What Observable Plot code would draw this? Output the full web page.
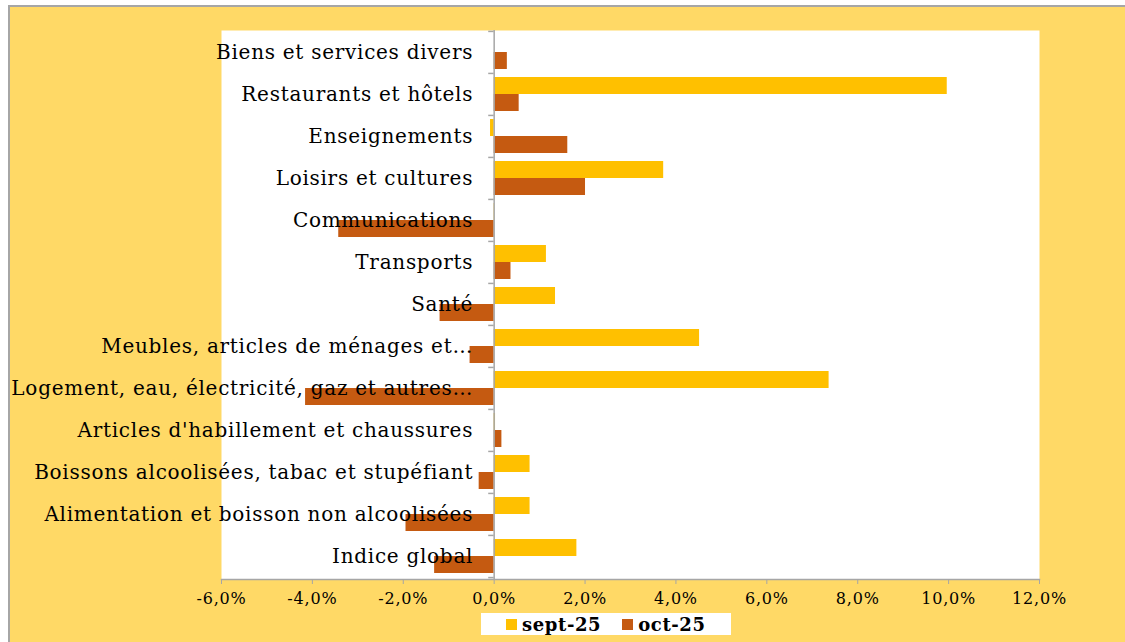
<!DOCTYPE html>
<html>
<head>
<meta charset="utf-8">
<script src="https://cdn.jsdelivr.net/npm/d3@7"></script>
<script src="https://cdn.jsdelivr.net/npm/@observablehq/plot@0.6"></script>
<style>
  html, body { margin: 0; padding: 0; background: #ffffff; }
  #chart {
    position: absolute; left: 8px; top: 5px; width: 1117px; height: 637px;
    background: #FFD966; border-top: 2px solid #a6a6a6; border-left: 2px solid #a6a6a6;
    overflow: hidden; box-sizing: border-box;
  }
  #chart svg { display: block; overflow: hidden; }
  #chart svg g[aria-label="text"] text { letter-spacing: 0.72px; }
  #chart svg g[aria-label="x-axis tick label"] text { letter-spacing: 0.8px; }
  #legend {
    position: absolute; left: 471px; top: 606px; width: 250px; height: 22px;
    background: #ffffff; font-family: "DejaVu Serif", serif; font-weight: bold; font-size: 18px;
    letter-spacing: 0.6px; color: #000; display: flex; align-items: center;
  }
  .sw { display: inline-block; width: 11px; height: 11px; margin-right: 5px; }
  .item { display: inline-flex; align-items: center; }
</style>
</head>
<body>
<div id="chart"></div>
<script>
const categories = [
  "Biens et services divers",
  "Restaurants et hôtels",
  "Enseignements",
  "Loisirs et cultures",
  "Communications",
  "Transports",
  "Santé",
  "Meubles, articles de ménages et…",
  "Logement, eau, électricité, gaz et autres…",
  "Articles d'habillement et chaussures",
  "Boissons alcoolisées, tabac et stupéfiant",
  "Alimentation et boisson non alcoolisées",
  "Indice global"
];
const sept25 = [0, 9.97, -0.08, 3.73, 0.01, 1.15, 1.35, 4.52, 7.37, 0.03, 0.79, 0.79, 1.82];
const oct25  = [0.29, 0.55, 1.62, 2.01, -3.42, 0.37, -1.19, -0.53, -4.15, 0.17, -0.33, -1.94, -1.31];
const seriesNames = ["sept-25", "oct-25"];
const seriesColors = ["#FFC000", "#C55A11"];
const xTicks = [-6, -4, -2, 0, 2, 4, 6, 8, 10, 12];

const septData = categories.map((c, i) => ({cat: c, v: sept25[i]}));
const octData = categories.map((c, i) => ({cat: c, v: oct25[i]}));
const fmt = d => d.toFixed(1).replace(".", ",") + "%";
const gray = "#a6a6a6";
const labelFont = "DejaVu Serif";

const W = 1115, H = 600;
const chart = Plot.plot({
  width: W,
  height: H,
  marginLeft: 211,
  marginRight: 86,
  marginTop: 23,
  marginBottom: 28,
  style: {background: "transparent", fontFamily: labelFont},
  x: {domain: [-6, 12], ticks: xTicks, tickFormat: fmt, label: null},
  y: {domain: categories, paddingInner: 0.19, paddingOuter: 0.095, axis: null, label: null},
  marks: [
    Plot.frame({fill: "white", stroke: null}),
    Plot.barX(septData, {x: "v", y: "cat", fill: seriesColors[0], insetBottom: 17}),
    Plot.barX(octData, {x: "v", y: "cat", fill: seriesColors[1], insetTop: 17}),
    Plot.ruleX([0], {stroke: gray, strokeWidth: 1.5}),
    Plot.ruleY(categories, {y: d => d, x1: -0.12, x2: 0, dy: -21.08, stroke: gray, strokeWidth: 1.5}),
    Plot.ruleY([categories[categories.length - 1]], {y: d => d, x1: -0.12, x2: 0, dy: 21.08, stroke: gray, strokeWidth: 1.5}),
    Plot.frame({anchor: "bottom", stroke: gray, strokeWidth: 1.5}),
    Plot.axisX({ticks: xTicks, tickFormat: fmt, tickSize: 5, tickPadding: 8, stroke: gray,
      fontSize: 16, fill: "#000", fontFamily: labelFont, label: null}),
    Plot.text(categories, {x: () => 0, y: d => d, dx: -21, textAnchor: "end",
      fontSize: 20, fill: "#000", fontFamily: labelFont})
  ]
});
const root = document.getElementById("chart");
root.appendChild(chart);

const legend = document.createElement("div");
legend.id = "legend";
seriesNames.forEach((name, i) => {
  const it = document.createElement("span");
  it.className = "item";
  it.style.marginLeft = i === 0 ? "25px" : "21px";
  it.innerHTML = `<span class="sw" style="background:${seriesColors[i]}"></span>${name}`;
  legend.appendChild(it);
});
root.appendChild(legend);
</script>
</body>
</html>
